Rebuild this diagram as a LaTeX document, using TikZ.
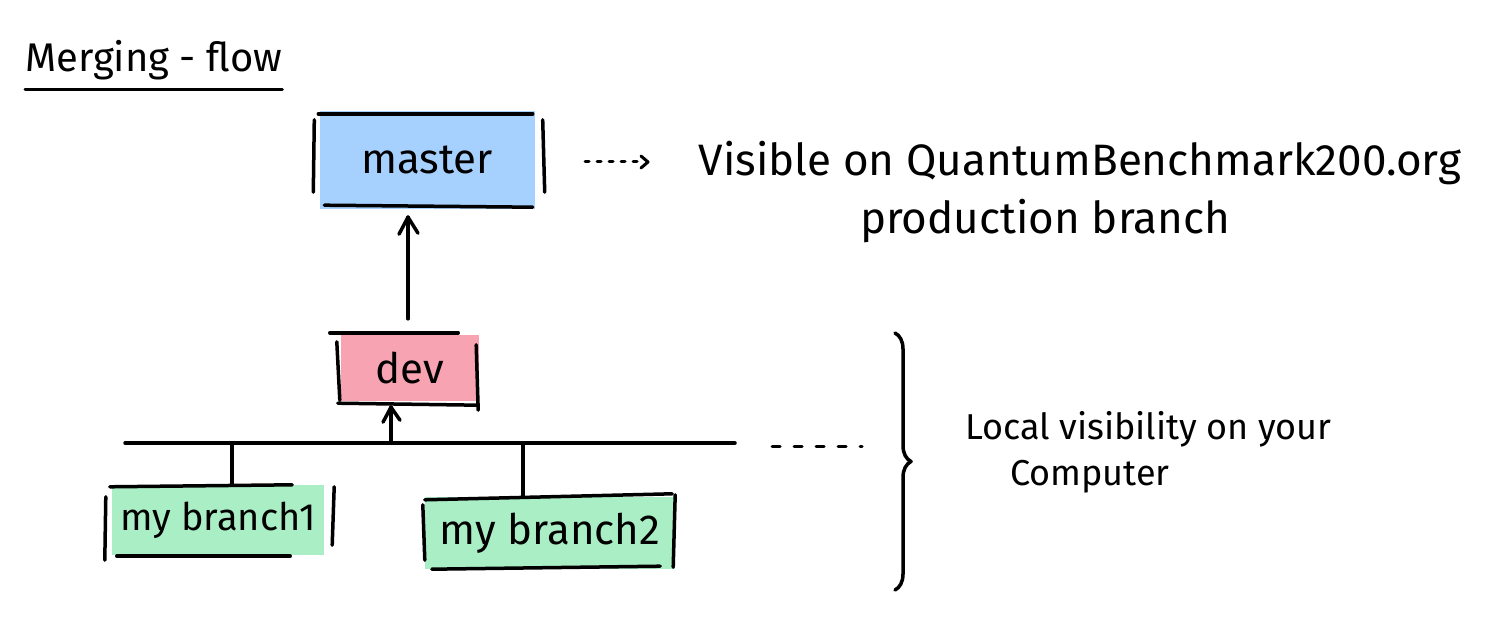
\documentclass[tikz,border=0pt]{standalone}
\usepackage{fontspec}
\setmainfont{Fira Sans}
\usetikzlibrary{calc,decorations.pathreplacing}
\definecolor{mblue}{HTML}{A6D0FD}
\definecolor{dpink}{HTML}{F8A3B1}
\definecolor{bgreen}{HTML}{AAEEC5}
\begin{document}
\begin{tikzpicture}[x=1pt,y=-1pt,
  ink/.style={line width=3.5pt, line cap=round, line join=round, black},
  boxnode/.style={inner sep=0pt, draw=none},
  lbl/.style={inner sep=0pt, font=\fontsize{42}{50}\selectfont},
  note/.style={inner sep=0pt, font=\fontsize{44}{56}\selectfont},
  dotline/.style={line width=3pt, line cap=round, dash pattern=on 4pt off 8pt},
  dashline/.style={line width=3pt, line cap=round, dash pattern=on 8pt off 14pt}
]
\useasboundingbox (0,0) rectangle (1491,617);

% title
\node[lbl, anchor=south west, font=\fontsize{40}{48}\selectfont] (title) at (25,80) {Merging - flow};
\draw[ink, line width=3pt] ($(title.south west)+(0,10)$) -- ($(title.south east)+(0,10)$);

% master
\node[boxnode, fill=mblue, minimum width=215pt, minimum height=98pt, lbl] (m) at (427,160) {master};
\draw[ink] ($(m.north west)+(-1,3)$) -- ($(m.north east)+(-2,3)$);
\draw[ink] ($(m.south west)+(5,-4)$) -- ($(m.south east)+(-2,-2)$);
\draw[ink] ($(m.north west)+(-5,9)$) -- ($(m.south west)+(-6,-17)$);
\draw[ink] ($(m.north east)+(8,9)$) -- ($(m.south east)+(10,-17)$);

% dev
\node[boxnode, fill=dpink, minimum width=138pt, minimum height=66pt, lbl] (d) at (410,368) {dev};
\draw[ink] ($(d.north west)+(-11,-2)$) -- ($(d.north east)+(-21,-2)$);
\draw[ink] ($(d.south west)+(-3,2)$) -- ($(d.south east)+(-1,4)$);
\draw[ink] ($(d.north west)+(-4,7)$) -- ($(d.south west)+(-1,-1)$);
\draw[ink] ($(d.north east)+(-3,10)$) -- ($(d.south east)+(-1,9)$);

% my branch1
\node[boxnode, fill=bgreen, minimum width=212pt, minimum height=70pt, lbl, font=\fontsize{38}{46}\selectfont] (b1) at (218,520) {my branch1};
\draw[ink] ($(b1.north west)+(-2,2)$) -- ($(b1.north east)+(-32,0)$);
\draw[ink] ($(b1.south west)+(5,1)$) -- ($(b1.south east)+(-34,1)$);
\draw[ink] ($(b1.north west)+(-6,12)$) -- ($(b1.south west)+(-7,5)$);
\draw[ink] ($(b1.north east)+(10,2)$) -- ($(b1.south east)+(8,-10)$);

% my branch2
\node[boxnode, fill=bgreen, minimum width=250pt, minimum height=72pt, lbl, font=\fontsize{42}{50}\selectfont] (b2) at (550,533) {my branch2};
\draw[ink] ($(b2.north west)+(0,3)$) -- ($(b2.north east)+(-3,-3)$);
\draw[ink] ($(b2.south west)+(7,0)$) -- ($(b2.south east)+(-15,-3)$);
\draw[ink] ($(b2.north west)+(-2,8)$) -- ($(b2.south west)+(0,-9)$);
\draw[ink] ($(b2.north east)+(0,-2)$) -- ($(b2.south east)+(-2,-2)$);

% dev -> master
\coordinate (dn) at ($(d.north)+(-2,-16)$);
\coordinate (mtip) at ($(dn |- m.south)+(0,8)$);
\draw[ink] (dn) -- (mtip);
\draw[ink] ($(mtip)+(-9,17)$) -- (mtip) -- ($(mtip)+(10,16)$);

% bus
\coordinate (busL) at (125,443);
\coordinate (busR) at (735,443);
\coordinate (j0) at (391,443);
\coordinate (j1) at (232,443);
\coordinate (j2) at (523,443);
\coordinate (dashS) at (772,446);
\coordinate (dashE) at (862,446);
\draw[ink] (busL) -- (busR);
\coordinate (dtip) at ($(j0 |- d.south)+(0,6)$);
\draw[ink] (j0) -- (dtip);
\draw[ink] ($(dtip)+(-8,15)$) -- (dtip) -- ($(dtip)+(9,13)$);
\draw[ink] (j1) -- (j1 |- b1.north);
\draw[ink] (j2) -- (j2 |- b2.north);
\draw[dashline] (dashS) -- (dashE);

% visible text
\node[note, align=center] (vis) at (1080,192) {Visible on QuantumBenchmark200.org\\[2pt]\hspace{-70pt}production branch};
\coordinate (dotS) at (585,162);
\coordinate (dotE) at (648,162);
\draw[dotline] (dotS) -- ($(dotE)+(-4,0)$);
\draw[line width=3pt, line cap=round, line join=round] ($(dotE)+(-7,-6)$) -- (dotE) -- ($(dotE)+(-7,6)$);

% brace
\coordinate (brT) at (895,333);
\coordinate (brB) at (895,590);
\draw[ink, decorate, decoration={brace, amplitude=16pt}] (brT) -- (brB);

% local text
\node[inner sep=0pt, anchor=west, align=left, font=\fontsize{36}{46}\selectfont] (loc) at (965,452) {Local visibility on your\\\hspace{45pt}Computer};
\end{tikzpicture}
\end{document}
